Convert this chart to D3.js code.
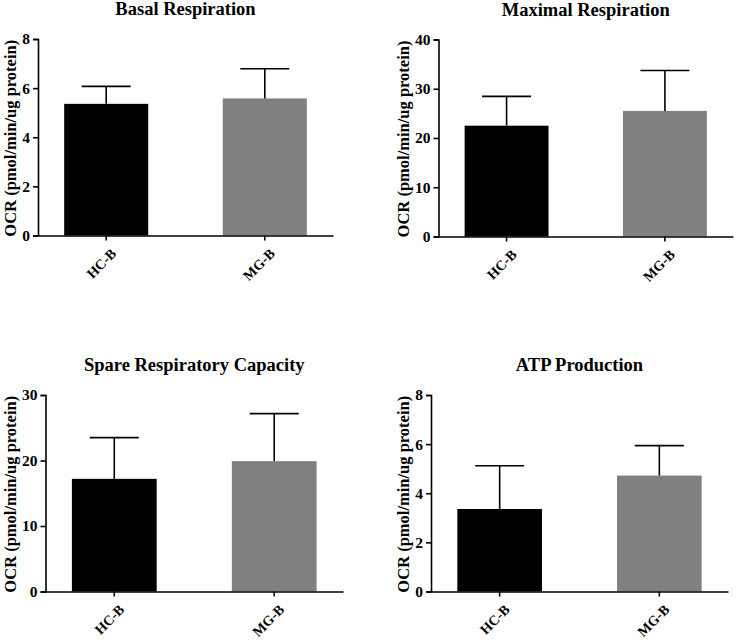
<html>
<head>
<script src="https://d3js.org/d3.v7.min.js" charset="utf-8"></script>
<style>
    body { margin: 0; background: #fff; }
    text { font-family: "Liberation Serif", "Times New Roman", serif; font-weight: bold; fill: #000; }
</style>
</head>
<body>
<div id="chart"></div>
<script type="text/javascript">
// data
var groups = ["HC-B", "MG-B"];
var titles = ["Basal Respiration", "Maximal Respiration", "Spare Respiratory Capacity", "ATP Production"];
var yMax = [8, 40, 30, 8];
var yTicks = [[0, 2, 4, 6, 8], [0, 10, 20, 30, 40], [0, 10, 20, 30], [0, 2, 4, 6, 8]];
var means = [[5.36, 5.58], [22.5, 25.5], [17.2, 19.9], [3.36, 4.72]];
var errTop = [[6.07, 6.79], [28.45, 33.7], [23.5, 27.15], [5.12, 5.94]];
var colors = ["#000000", "#808080"];

var W = 739, H = 640;
var svg = d3.select("#chart").append("svg").attr("width", W).attr("height", H);

// plot areas of the four panels
var boxes = [
    {x0: 38, x1: 333, y0: 39, y1: 235.5, lab: 9.5},
    {x0: 438.5, x1: 733, y0: 39.5, y1: 236.5, lab: 403},
    {x0: 45.5, x1: 343, y0: 395, y1: 591.5, lab: 9.5},
    {x0: 431, x1: 728, y0: 395, y1: 591.5, lab: 403}
];

boxes.forEach(function(b, i) {
    var g = svg.append("g");
    var x = d3.scaleBand().domain(groups).range([b.x0, b.x1]).paddingInner(0.47).paddingOuter(0.165);
    var y = d3.scaleLinear().domain([0, yMax[i]]).range([b.y1, b.y0]);

    g.selectAll("rect.bar").data(groups).enter().append("rect")
        .attr("x", function(d) { return x(d); })
        .attr("y", function(d, j) { return y(means[i][j]); })
        .attr("width", x.bandwidth())
        .attr("height", function(d, j) { return y(0) - y(means[i][j]); })
        .attr("fill", function(d, j) { return colors[j]; });

    // error bars (upper only)
    groups.forEach(function(d, j) {
        var cx = x(d) + x.bandwidth() / 2;
        g.append("line").attr("x1", cx).attr("x2", cx)
            .attr("y1", y(means[i][j])).attr("y2", y(errTop[i][j]))
            .attr("stroke", "#000").attr("stroke-width", 1.6);
        g.append("line").attr("x1", cx - 24.5).attr("x2", cx + 24.5)
            .attr("y1", y(errTop[i][j])).attr("y2", y(errTop[i][j]))
            .attr("stroke", "#000").attr("stroke-width", 1.6);
    });

    var yAxis = g.append("g").attr("transform", "translate(" + b.x0 + ",0)")
        .call(d3.axisLeft(y).tickValues(yTicks[i]).tickSize(5).tickPadding(3).tickFormat(d3.format("d")));
    yAxis.selectAll("text").style("font-size", "15.5px");

    g.append("g").attr("transform", "translate(0," + b.y1 + ")")
        .call(d3.axisBottom(x).tickSize(5).tickSizeOuter(0).tickFormat(""));

    // category labels at -45 degrees
    g.selectAll("text.xl").data(groups).enter().append("text")
        .attr("class", "xl")
        .attr("transform", function(d) {
            return "translate(" + (x(d) + x.bandwidth() / 2 + 4) + "," + (b.y1 + 12) + ") rotate(-45)";
        })
        .attr("text-anchor", "end")
        .attr("dy", "0.7em")
        .style("font-size", "14px")
        .text(function(d) { return d; });

    g.append("text").attr("x", (b.x0 + b.x1) / 2).attr("y", b.y0 - 24)
        .attr("text-anchor", "middle").style("font-size", "18.5px").text(titles[i]);

    g.append("text")
        .attr("transform", "translate(" + (b.lab + 6) + "," + ((b.y0 + b.y1) / 2 + 1) + ") rotate(-90)")
        .attr("text-anchor", "middle").style("font-size", "16.5px")
        .text("OCR (pmol/min/ug protein)");
});

svg.selectAll(".domain, .tick line").attr("stroke", "#000").attr("stroke-width", 1.6);
</script>
</body>
</html>
